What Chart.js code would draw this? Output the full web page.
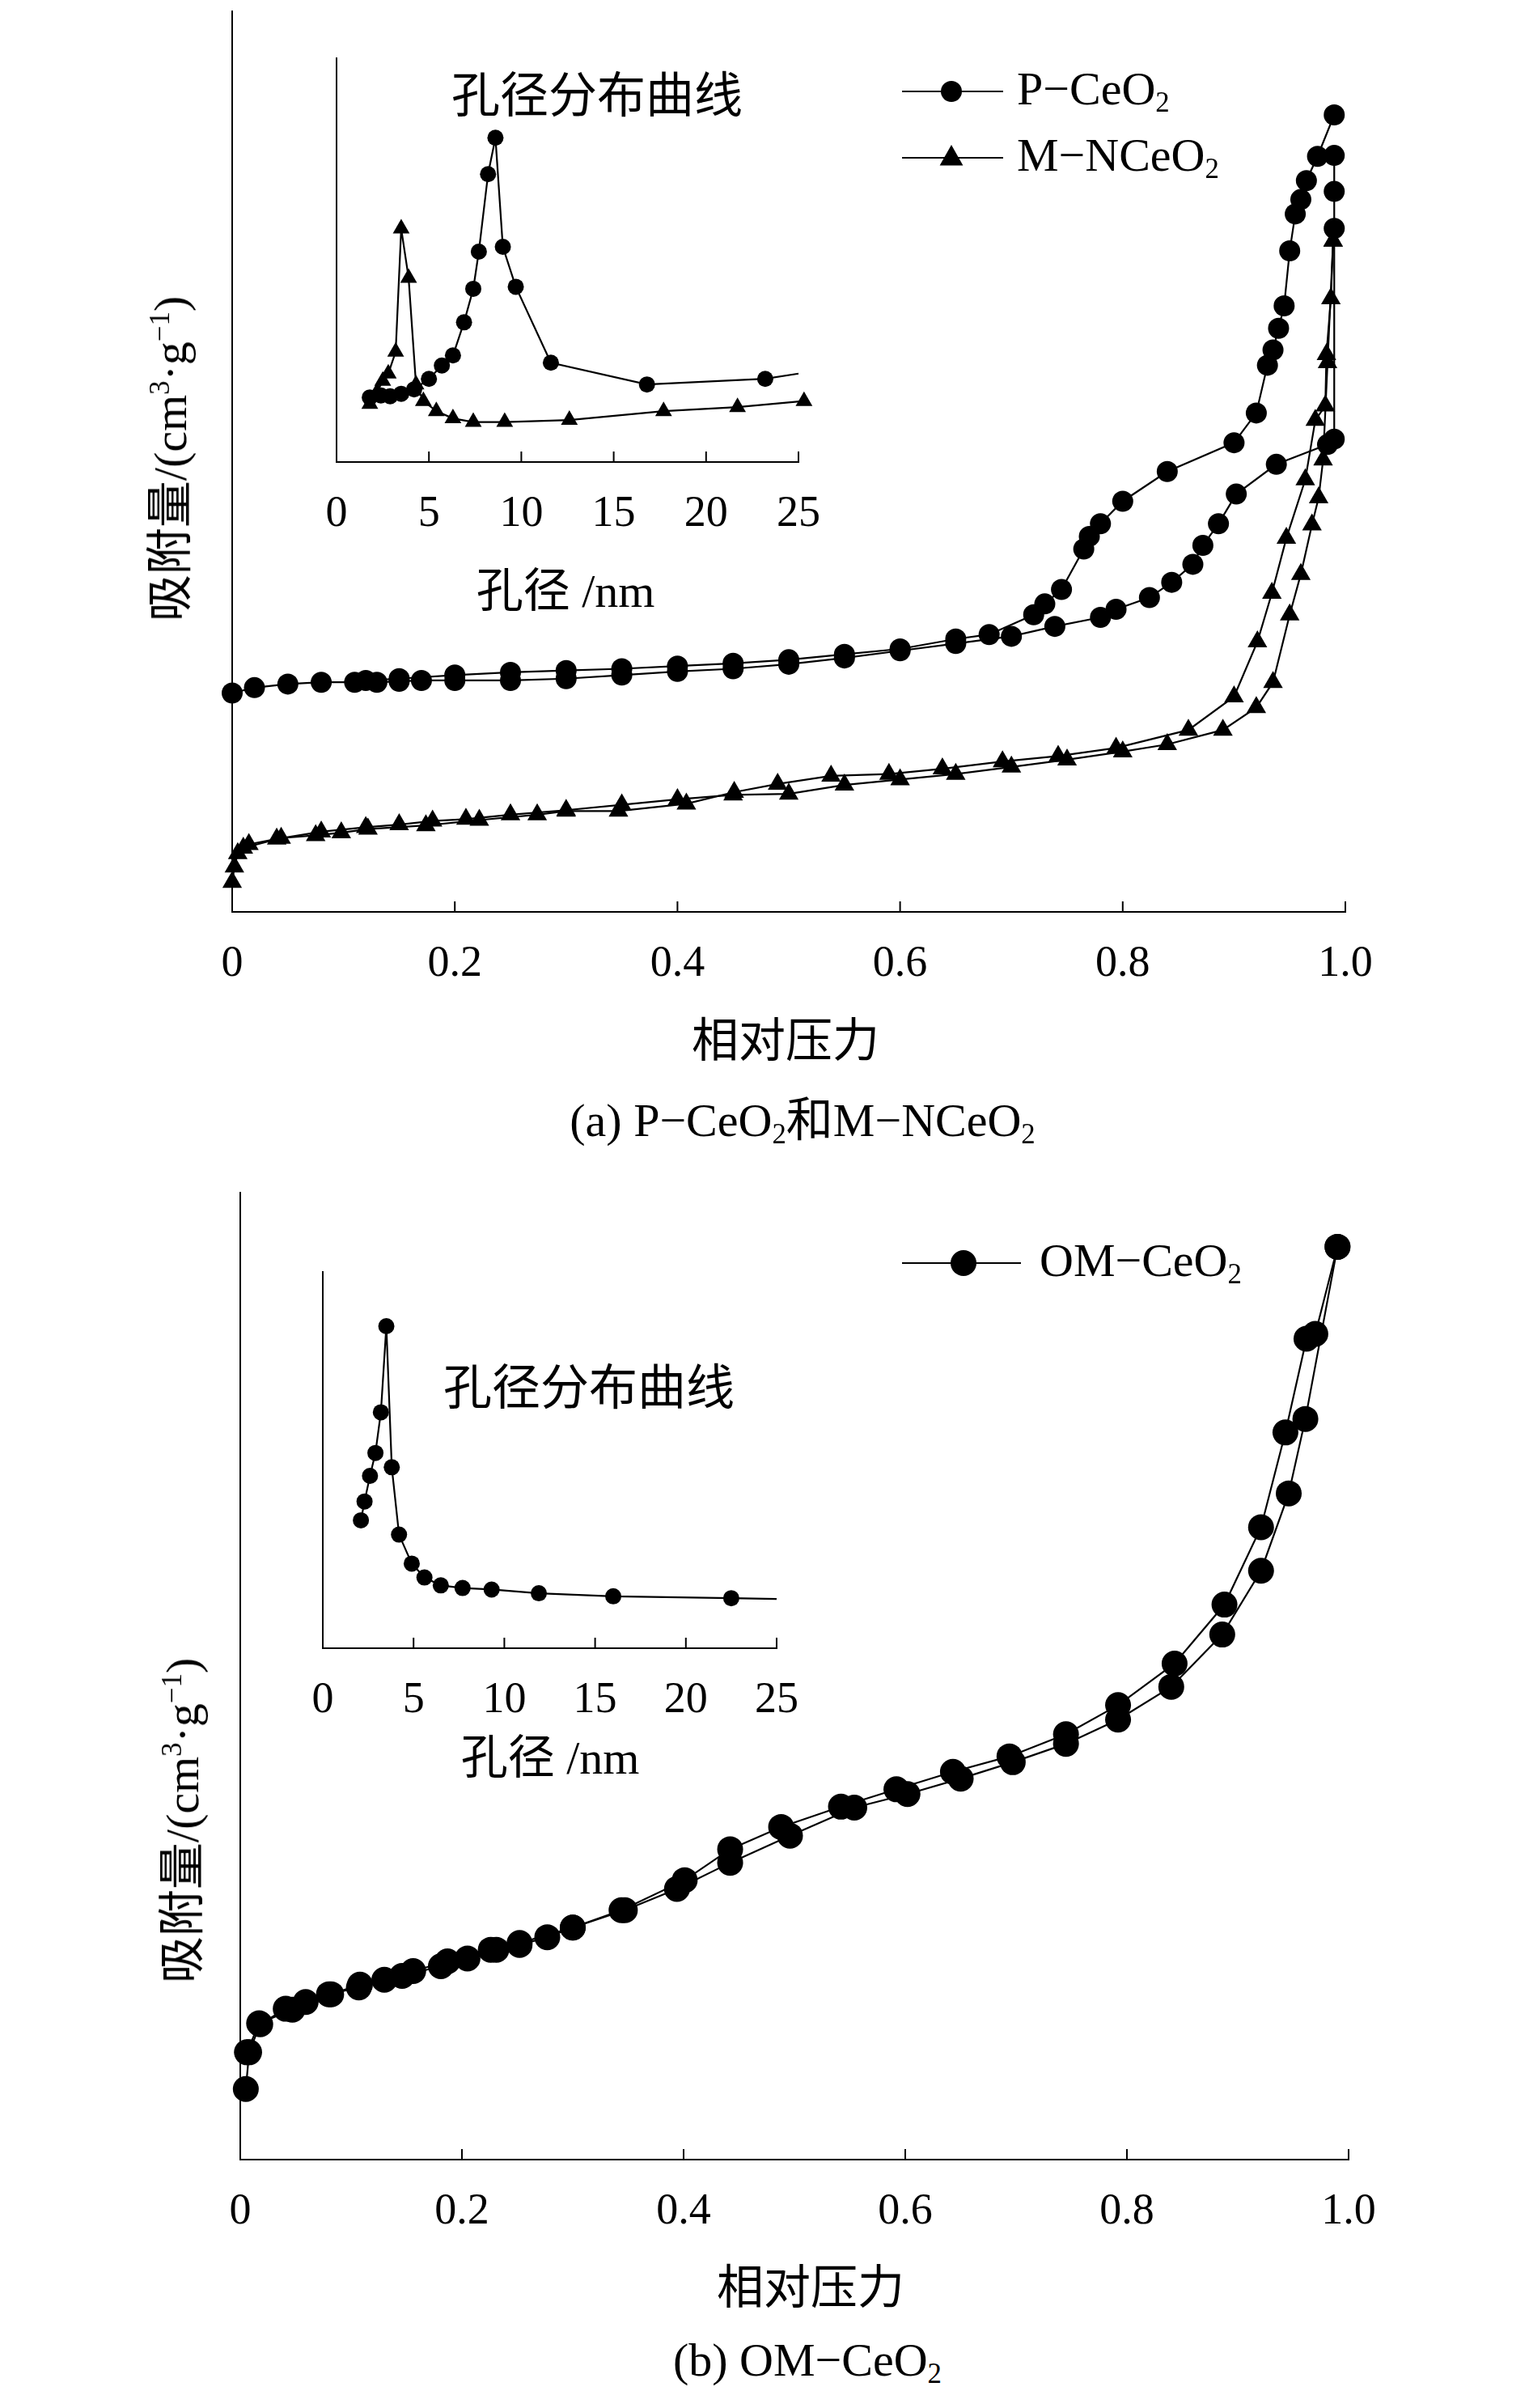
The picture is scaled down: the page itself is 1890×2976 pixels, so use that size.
<!DOCTYPE html>
<html><head><meta charset="utf-8">
<script src="https://cdn.jsdelivr.net/npm/chart.js@4/dist/chart.umd.min.js"></script>
<style>
body{margin:0;background:#fff;width:1890px;height:2976px;position:relative;overflow:hidden;font-family:"Liberation Serif","Noto Sans CJK SC",serif;color:#000}
canvas{position:absolute;left:0}
.t{position:absolute;transform:translate(-50%,-50%);white-space:nowrap;font-size:58px;line-height:1}
.l{position:absolute;transform:translate(0,-50%);white-space:nowrap;font-size:58px;line-height:1}
.cj{font-family:"Noto Sans CJK SC",sans-serif}
sub{font-size:0.6em;vertical-align:-0.25em}
sup{font-size:0.6em;vertical-align:0.6em}
</style></head><body>
<div style="position:absolute;left:0;top:0;width:1890px;height:1250px"><canvas id="c1" width="1890" height="1250"></canvas><canvas id="c2" width="1890" height="700"></canvas></div>
<div style="position:absolute;left:0;top:1400px;width:1890px;height:1400px"><canvas id="c3" width="1890" height="1400"></canvas><canvas id="c4" width="1890" height="760"></canvas></div>

<div class="t" style="left:208px;top:567px;transform:translate(-50%,-50%) rotate(-90deg)"><span class="cj">吸附量</span>/(cm<sup>3</sup>·g<sup>−1</sup>)</div>
<div class="t cj" style="left:738px;top:113px;font-size:60px">孔径分布曲线</div>
<div class="t" style="left:699px;top:728px"><span class="cj">孔径</span> /nm</div>
<div class="t cj" style="left:971px;top:1281px">相对压力</div>
<div class="t" style="left:992px;top:1385px">(a) P−CeO<sub>2</sub><span class="cj">和</span>M−NCeO<sub>2</sub></div>
<div class="l" style="left:1257px;top:113px">P−CeO<sub>2</sub></div>
<div class="l" style="left:1257px;top:195px">M−NCeO<sub>2</sub></div>

<div class="t" style="left:223px;top:2250px;transform:translate(-50%,-50%) rotate(-90deg)"><span class="cj">吸附量</span>/(cm<sup>3</sup>·g<sup>−1</sup>)</div>
<div class="t cj" style="left:728px;top:1710px;font-size:60px">孔径分布曲线</div>
<div class="t" style="left:680px;top:2170px"><span class="cj">孔径</span> /nm</div>
<div class="t cj" style="left:1002px;top:2822px">相对压力</div>
<div class="t" style="left:998px;top:2920px">(b) OM−CeO<sub>2</sub></div>
<div class="l" style="left:1285px;top:1561px">OM−CeO<sub>2</sub></div>

<script>
// ---- (a) main isotherms ----
const pAdsX=[0,0.02,0.05,0.08,0.11,0.13,0.15,0.17,0.2,0.25,0.3,0.35,0.4,0.45,0.5,0.55,0.6,0.65,0.7,0.739,0.78,0.794,0.824,0.844,0.863,0.872,0.886,0.902,0.938,0.984,0.99,0.99,0.99,0.99];
const pAdsY=[24.3,24.9,25.3,25.5,25.5,25.5,25.6,25.7,25.7,25.7,25.9,26.3,26.7,27.0,27.5,28.2,29.0,29.8,30.6,31.7,32.7,33.6,34.9,36.6,38.6,40.7,43.1,46.4,49.7,51.9,52.5,75.9,80.0,84.0];
const pDesX=[0.99,0.975,0.965,0.96,0.955,0.95,0.945,0.94,0.935,0.93,0.92,0.9,0.84,0.8,0.78,0.77,0.765,0.745,0.73,0.72,0.68,0.65,0.6,0.55,0.5,0.45,0.4,0.35,0.3,0.25,0.2,0.15,0.12];
const pDesY=[88.5,83.9,81.2,79.1,77.5,73.4,67.3,64.8,62.4,60.7,55.4,52.1,48.9,45.6,43.1,41.7,40.3,35.8,34.2,33.0,30.8,30.3,29.2,28.6,28.0,27.6,27.3,27.0,26.8,26.6,26.3,25.9,25.7];
const mAdsX=[0,0.002,0.005,0.015,0.04,0.08,0.12,0.15,0.18,0.21,0.25,0.3,0.35,0.4,0.45,0.5,0.55,0.6,0.65,0.7,0.75,0.8,0.84,0.89,0.92,0.935,0.95,0.96,0.97,0.976,0.98,0.984,0.989];
const mAdsY=[3.3,5.0,6.5,7.5,8.1,8.9,9.4,9.7,10.1,10.3,10.8,11.3,11.9,12.5,13.0,13.1,14.1,14.7,15.3,16.1,16.9,17.8,18.6,20.2,22.7,25.5,33.0,37.5,43.0,46.0,50.2,61.0,74.5];
const mDesX=[0.989,0.987,0.983,0.982,0.973,0.964,0.947,0.934,0.921,0.9,0.859,0.794,0.742,0.692,0.638,0.59,0.538,0.49,0.451,0.408,0.347,0.3,0.274,0.222,0.174,0.122,0.098,0.075,0.044,0.01];
const mDesY=[74.5,68.1,61.9,56.2,54.6,48.0,41.5,35.4,30.0,23.9,20.2,18.2,17.3,16.7,15.9,15.3,15.1,14.2,13.3,12.0,11.2,11.2,10.8,10.2,9.6,9.2,8.8,8.5,8.2,7.1];
// ---- (a) inset pore size distribution ----
const pPsdX=[1.8,2.4,2.9,3.5,4.2,5.0,5.7,6.3,6.9,7.4,7.7,8.2,8.6,9.0,9.7,11.6,16.8,23.2,25.0];
const pPsdY=[16.0,16.5,16.3,16.9,18.0,20.6,23.9,26.4,34.6,42.9,52.1,71.3,80.3,53.3,43.4,24.6,19.2,20.6,21.9];
const mPsdX=[1.8,2.2,2.5,2.8,3.2,3.5,3.9,4.3,4.7,5.4,6.3,7.4,9.1,12.6,17.7,21.7,25.3];
const mPsdY=[14.4,17.4,20.1,21.9,27.3,57.8,45.6,19.2,15.1,12.6,10.8,9.9,9.9,10.4,12.6,13.6,15.1];
// ---- (b) main isotherm ----
const oAdsX=[0.005,0.008,0.018,0.041,0.059,0.08,0.107,0.13,0.146,0.181,0.205,0.231,0.252,0.277,0.3,0.347,0.394,0.442,0.496,0.554,0.602,0.65,0.697,0.745,0.792,0.84,0.886,0.921,0.946,0.961,0.99];
const oAdsY=[7.3,11.1,14.0,15.6,16.3,17.1,17.8,18.6,19.0,20.0,20.8,21.7,22.2,23.0,24.0,25.8,28.0,30.7,33.5,36.4,37.8,39.4,41.1,43.0,45.5,48.9,54.3,60.9,68.9,76.6,94.4];
const oDesX=[0.99,0.97,0.962,0.943,0.921,0.888,0.843,0.792,0.745,0.694,0.643,0.592,0.542,0.488,0.442,0.401,0.344,0.3,0.252,0.226,0.187,0.156,0.108,0.082,0.047,0.017,0.006];
const oDesY=[94.4,85.4,84.9,75.2,65.4,57.4,51.3,47.0,44.0,41.7,40.1,38.3,36.5,34.4,32.1,28.9,25.8,24.0,22.4,21.7,20.5,19.5,18.1,17.1,15.5,14.1,11.1];
// ---- (b) inset ----
const oPsdX=[2.1,2.3,2.6,2.9,3.2,3.5,3.8,4.2,4.9,5.6,6.5,7.7,9.3,11.9,16.0,22.5,25.0];
const oPsdY=[34.0,39.0,45.8,51.9,62.7,85.6,48.1,30.2,22.5,18.8,16.7,16.0,15.6,14.6,13.8,13.3,13.1];
const relTicks=[0,0.2,0.4,0.6,0.8,1.0];
const nmTicks=[0,5,10,15,20,25];

Chart.defaults.animation=false;
Chart.defaults.responsive=false;
Chart.defaults.font.family='"Liberation Serif", serif';
Chart.defaults.color='#000';
const pts=(xs,ys)=>xs.map((x,i)=>({x,y:ys[i]}));
function ds(xs,ys,style,r,lastNoMarker){
  return {data:pts(xs,ys),borderColor:'#000',backgroundColor:'#000',borderWidth:2.2,pointStyle:style,
    pointRadius:lastNoMarker?(c=>c.dataIndex===xs.length-1?0:r):r,pointBorderWidth:0,tension:0,clip:false};
}
const innerTicks={id:'innerTicks',afterDraw(ch,a,o){const s=ch.scales.x,ctx=ch.ctx,b=ch.chartArea.bottom;
  ctx.save();ctx.strokeStyle='#000';ctx.lineWidth=2;
  o.vals.forEach(v=>{const p=s.getPixelForValue(v);ctx.beginPath();ctx.moveTo(p,b);ctx.lineTo(p,b-13);ctx.stroke();});
  ctx.restore();}};
const legendMarks={id:'legendMarks',afterDraw(ch,a,o){const ctx=ch.ctx;ctx.save();
  o.items.forEach(it=>{ctx.strokeStyle='#000';ctx.lineWidth=2.2;ctx.beginPath();ctx.moveTo(it.x0,it.y);ctx.lineTo(it.x1,it.y);ctx.stroke();
   ctx.fillStyle='#000';ctx.beginPath();
   if(it.s==='tri'){const r=it.r;ctx.moveTo(it.m,it.y-r);ctx.lineTo(it.m+r*0.9,it.y+r*0.6);ctx.lineTo(it.m-r*0.9,it.y+r*0.6);}
   else ctx.arc(it.m,it.y,it.r,0,Math.PI*2);
   ctx.fill();});ctx.restore();}};
function make(id,cfg){
  const {datasets,xmin,xmax,ticks,xH,pad,ymax,fmt,legend}=cfg;
  return new Chart(document.getElementById(id),{type:'line',data:{datasets},
   options:{layout:{padding:pad},plugins:{legend:{display:false},tooltip:{enabled:false},
     innerTicks:{vals:ticks},legendMarks:{items:legend||[]}},
    scales:{x:{type:'linear',min:xmin,max:xmax,afterFit:s=>{s.height=xH},
       afterBuildTicks:s=>{s.ticks=ticks.map(v=>({value:v}))},
       ticks:{font:{size:54},padding:32,maxRotation:0,callback:fmt},
       grid:{display:true,drawOnChartArea:false,drawTicks:false},border:{display:true,color:'#000',width:2}},
     y:{min:0,max:ymax,afterFit:s=>{s.width=0},ticks:{display:false},grid:{display:false,drawTicks:false},border:{display:true,color:'#000',width:2}}}},
   plugins:[innerTicks,legendMarks]});
}
const rel=v=>v===0?'0':v.toFixed(1);
const nm=v=>String(v);
make('c1',{datasets:[ds(pAdsX,pAdsY,'circle',13),ds(pDesX,pDesY,'circle',13),ds(mAdsX,mAdsY,'triangle',14),ds(mDesX,mDesY,'triangle',14)],
  xmin:0,xmax:1,ticks:relTicks,xH:123,pad:{left:287,right:227,top:0,bottom:0},ymax:100,fmt:rel,
  legend:[{x0:1115,x1:1240,m:1176,y:113,r:13,s:'c'},{x0:1115,x1:1240,m:1176,y:195,r:16,s:'tri'}]});
make('c2',{datasets:[ds(pPsdX,pPsdY,'circle',10,true),ds(mPsdX,mPsdY,'triangle',12)],
  xmin:0,xmax:25,ticks:nmTicks,xH:129,pad:{left:416,right:903,top:72,bottom:0},ymax:100,fmt:nm});
make('c3',{datasets:[ds(oAdsX,oAdsY,'circle',16),ds(oDesX,oDesY,'circle',16)],
  xmin:0,xmax:1,ticks:relTicks,xH:131,pad:{left:297,right:223,top:74,bottom:0},ymax:100,fmt:rel,
  legend:[{x0:1115,x1:1262,m:1191,y:161,r:16,s:'c'}]});
make('c4',{datasets:[ds(oPsdX,oPsdY,'circle',10,true)],
  xmin:0,xmax:25,ticks:nmTicks,xH:123,pad:{left:399,right:930,top:172,bottom:0},ymax:100,fmt:nm});
</script></body></html>
